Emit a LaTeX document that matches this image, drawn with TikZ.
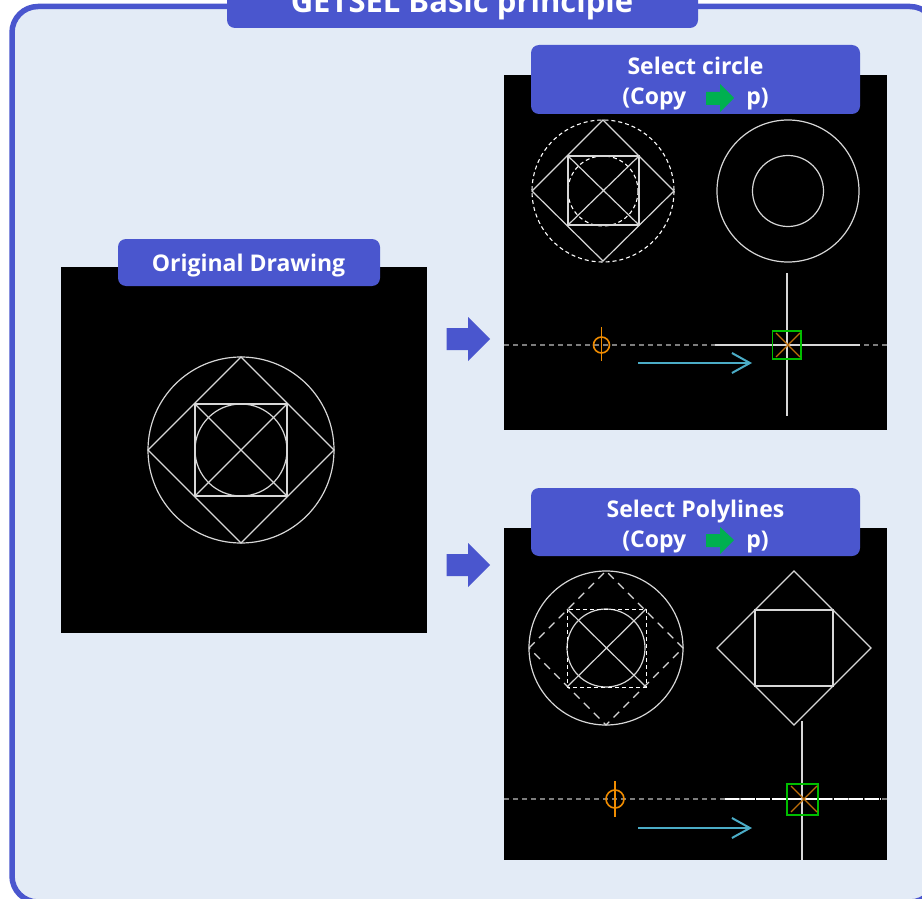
\documentclass[tikz,border=0pt]{standalone}
\usepackage{fontspec}
\setmainfont{Open Sans}
\usepackage{tikz}
\usetikzlibrary{arrows.meta}
\definecolor{myblue}{RGB}{74, 86, 206}
\definecolor{mypanel}{RGB}{227, 235, 246}
\definecolor{mygreen}{RGB}{0, 176, 80}
\definecolor{mypick}{RGB}{0, 190, 0}
\definecolor{mycyan}{RGB}{75, 172, 198}
\definecolor{myorange}{RGB}{240, 140, 0}
\definecolor{mybrown}{RGB}{190, 110, 10}
\definecolor{mywhite}{RGB}{215, 215, 215}
\definecolor{mydash}{RGB}{125, 125, 125}
\tikzset{
  titlebox/.style = {myblue, rounded corners = 8pt},
  titletext/.style = {text = white, font = \bfseries\fontsize{23}{30}\selectfont, align = center, inner sep = 0pt},
  cad/.style = {mywhite, line width = 1.2 pt},
  caddash/.style = {white, line width = 1.1 pt, dash pattern = on 4pt off 3pt},
  caddashlong/.style = {mywhite, line width = 1.1 pt, dash pattern = on 8pt off 6pt},
  centerdash/.style = {mydash, line width = 1.2 pt, dash pattern = on 5pt off 4pt},
  mark line/.style = {myorange, line width = 1.6 pt},
  mark cross/.style = {mybrown, line width = 1.3 pt},
  pick box/.style = {mypick, line width = 1.6 pt},
  move/.style = {mycyan, line width = 2 pt, -{Straight Barb[length=18pt,width=20pt,line width=2pt]}}
}
\begin{document}
\begin{tikzpicture}[x = 1pt, y = -1pt]
\clip (0,0) rectangle (922,899);
\draw[line width = 5.5 pt, myblue, fill = mypanel, rounded corners = 26pt] (12,6.5) rectangle (936,902);

% black panels
\fill[black] (61,267) rectangle (427,633);
\fill[black] (504,75) rectangle (887,430);
\fill[black] (504,528) rectangle (887,860);

% headers
\fill[titlebox] (227,-20) rectangle (698,28);
\fill[titlebox] (118,239) rectangle (380,286);
\fill[titlebox] (531,45) rectangle (860,114);
\fill[titlebox] (531,488) rectangle (860,556);
\node[titletext, font = \bfseries\fontsize{31}{30}\selectfont] (title) at (462,4.5) {GETSEL Basic principle};
\node[titletext] (original) at (248.5,265.5) {Original Drawing};
\node[titletext] (selcircle) at (695.5,84) {Select circle\\(Copy\hspace{60pt}p)};
\node[titletext] (selpoly) at (695.5,526.5) {Select Polylines\\(Copy\hspace{60pt}p)};

% arrows
\fill[mygreen] (706,92) -- (720,92) -- (720,84) -- (734,98) -- (720,112) -- (720,105) -- (706,105) -- cycle;
\fill[mygreen] (706,534) -- (720,534) -- (720,527) -- (734,540) -- (720,554) -- (720,547) -- (706,547) -- cycle;
\fill[myblue] (446.5,328) -- (468,328) -- (468,317) -- (490,339) -- (468,361) -- (468,350) -- (446.5,350) -- cycle;
\fill[myblue] (446.5,554) -- (468,554) -- (468,543) -- (490,565) -- (468,587) -- (468,576) -- (446.5,576) -- cycle;

% original drawing
\draw[cad] (241,450) circle (93);
\draw[cad] (241,450) circle (46);
\draw[cad] (148,450) -- (241,357) -- (334,450) -- (241,543) -- cycle;
\draw[cad] (195,404) rectangle (287,496);
\draw[cad] (195,404) -- (287,496) (195,496) -- (287,404);

% select circle, left
\draw[caddash] (603,191) circle (71);
\draw[caddash] (603,191) circle (35);
\draw[cad] (532,191) -- (603,120) -- (674,191) -- (603,261) -- cycle;
\draw[cad, line width = 1.3 pt] (568,156) rectangle (639,225);
\draw[cad] (568,156) -- (639,225) (568,225) -- (639,156);

% select circle, right
\draw[cad] (788,191) circle (71);
\draw[cad] (788,191) circle (35.5);

% select circle, base point and move
\draw[centerdash] (504,345) -- (887,345);
\draw[cad, line width = 1.5 pt] (715,345) -- (860,345);
\draw[cad, line width = 1.5 pt] (787,273) -- (787,416);
\draw[pick box] (772.5,331) rectangle (801,359);
\draw[mark cross] (776,333) -- (800,357) (776,357) -- (800,333);
\draw[mark line] (601.5,345) circle (8);
\draw[mark line] (601.5,327) -- (601.5,361);
\coordinate (movea) at (638,363);
\coordinate (moveb) at (752,363);
\draw[move] (movea) -- (moveb);

% select polylines, left
\draw[cad] (606,648) circle (77);
\draw[cad] (606,648) circle (39);
\draw[caddashlong] (529,648) -- (606,571) -- (683,648) -- (606,725) -- cycle;
\draw[caddash, line width = 1 pt] (567,609) rectangle (646,687);
\draw[cad] (567,609) -- (646,687) (567,687) -- (646,609);

% select polylines, right
\draw[cad] (717,648) -- (794,571) -- (871,648) -- (794,725) -- cycle;
\draw[cad] (755,610) rectangle (833,686);

% select polylines, base point and move
\draw[centerdash] (504,799) -- (887,799);
\draw[white, line width = 1.5 pt, dash pattern = on 14pt off 1.5pt] (725,799) -- (881,799);
\draw[cad, line width = 1.5 pt] (802,721) -- (802,860);
\draw[pick box] (787,784) rectangle (818,815);
\draw[mark cross] (791,786) -- (817,812) (791,812) -- (817,786);
\draw[mark line] (615,799) circle (9);
\draw[mark line] (615,781) -- (615,817);
\coordinate (movec) at (638,828);
\coordinate (moved) at (752,828);
\draw[move] (movec) -- (moved);
\end{tikzpicture}
\end{document}
